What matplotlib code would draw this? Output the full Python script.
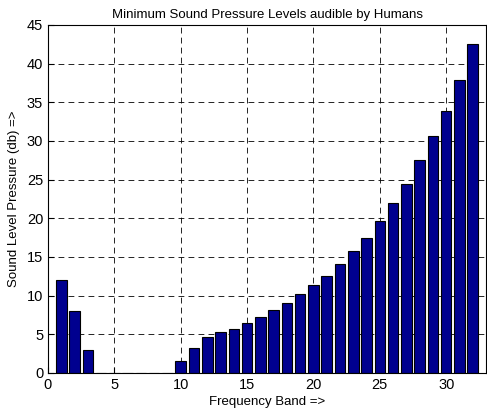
import numpy as np
import matplotlib
matplotlib.use('Agg')
import matplotlib.pyplot as plt

plt.rcParams['font.family'] = ['Liberation Sans', 'DejaVu Sans']

bande = np.arange(1, 33)
livelli = [12.0, 8.0, 3.0, 0, 0, 0, 0, 0, 0, 1.5, 3.2, 4.7, 5.3, 5.7, 6.5, 7.3,
           8.2, 9.0, 10.2, 11.4, 12.5, 14.1, 15.8, 17.4, 19.7, 22.0, 24.4, 27.5,
           30.7, 33.9, 37.9, 42.6]

fig = plt.figure(figsize=(4.87, 4.16), dpi=100)
ax = fig.add_axes([48/487, 1 - 373/416, (486-48)/487, (373-25)/416])
ax.set_axisbelow(True)
ax.bar(bande, livelli, width=0.8, color='#00008F', edgecolor='black', linewidth=0.8)

ax.set_xlim(0, 33)
ax.set_ylim(0, 45)
ax.set_xticks(np.arange(0, 31, 5))
ax.set_yticks(np.arange(0, 46, 5))
ax.grid(True, color='black', linestyle=(0, (7, 5)), linewidth=0.6)
ax.tick_params(direction='in', labelsize=10.5, length=4)
for s in ax.spines.values():
    s.set_linewidth(0.8)

ax.set_title('Minimum Sound Pressure Levels audible by Humans', fontsize=9.5, pad=5)
ax.set_xlabel('Frequency Band =>', fontsize=9.5, labelpad=3)
ax.set_ylabel('Sound Level Pressure (db) =>', fontsize=9.5, labelpad=5)

fig.savefig('out.png', dpi=100)
